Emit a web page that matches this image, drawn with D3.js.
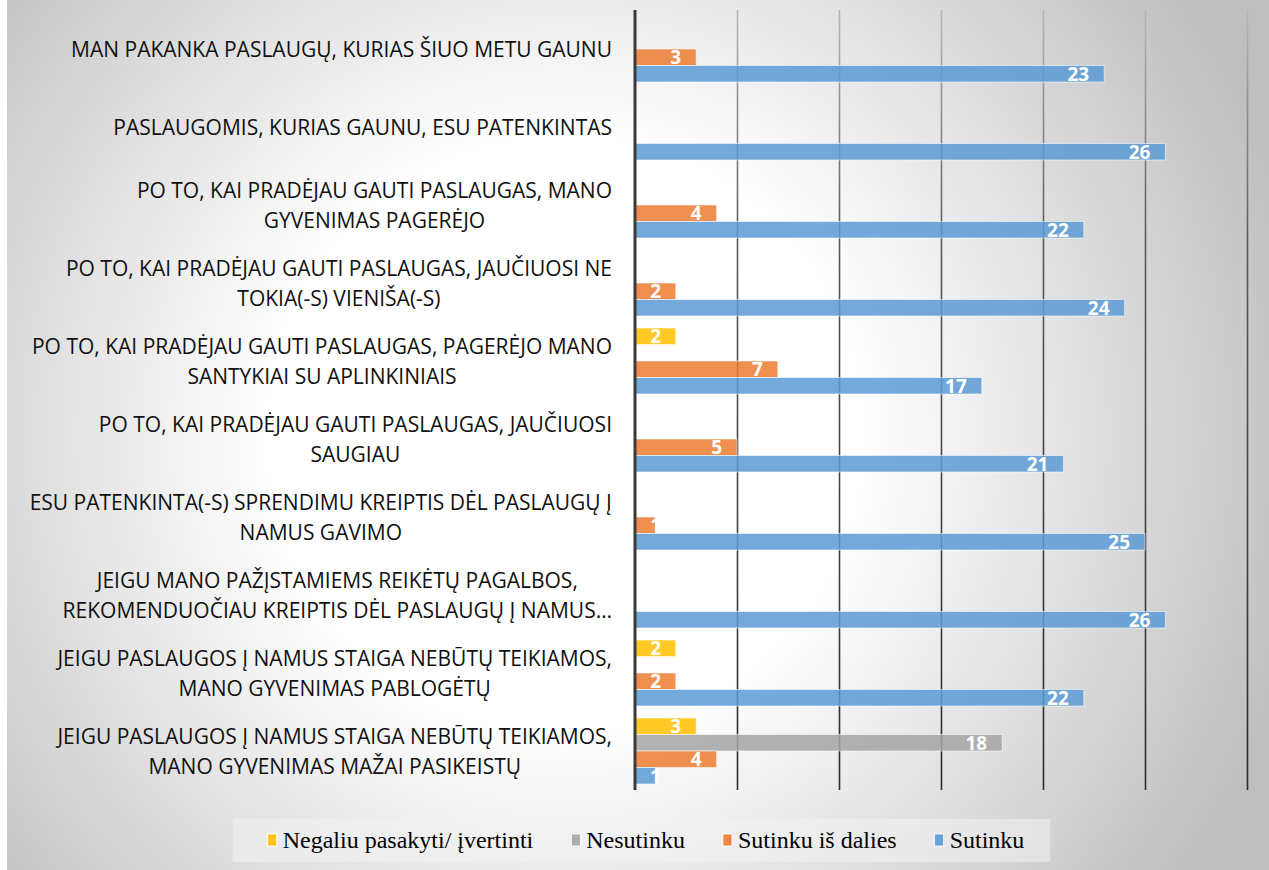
<!DOCTYPE html>
<html>
<head>
<meta charset="utf-8">
<script src="https://cdn.jsdelivr.net/npm/d3@7"></script>
<style>
  html, body { margin: 0; padding: 0; background: #fff; }
  svg { display: block; }
</style>
</head>
<body>
<script>

// Categories, top to bottom (each entry is one wrapped label).
var categories = [
  ["MAN PAKANKA PASLAUGŲ, KURIAS ŠIUO METU GAUNU"],
  ["PASLAUGOMIS, KURIAS GAUNU, ESU PATENKINTAS"],
  ["PO TO, KAI PRADĖJAU GAUTI PASLAUGAS, MANO", "GYVENIMAS PAGERĖJO"],
  ["PO TO, KAI PRADĖJAU GAUTI PASLAUGAS, JAUČIUOSI NE", "TOKIA(-S) VIENIŠA(-S)"],
  ["PO TO, KAI PRADĖJAU GAUTI PASLAUGAS, PAGERĖJO MANO", "SANTYKIAI SU APLINKINIAIS"],
  ["PO TO, KAI PRADĖJAU GAUTI PASLAUGAS, JAUČIUOSI", "SAUGIAU"],
  ["ESU PATENKINTA(-S) SPRENDIMU KREIPTIS DĖL PASLAUGŲ Į", "NAMUS GAVIMO"],
  ["JEIGU MANO PAŽĮSTAMIEMS REIKĖTŲ PAGALBOS,", "REKOMENDUOČIAU KREIPTIS DĖL PASLAUGŲ Į NAMUS…"],
  ["JEIGU PASLAUGOS Į NAMUS STAIGA NEBŪTŲ TEIKIAMOS,", "MANO GYVENIMAS PABLOGĖTŲ"],
  ["JEIGU PASLAUGOS Į NAMUS STAIGA NEBŪTŲ TEIKIAMOS,", "MANO GYVENIMAS MAŽAI PASIKEISTŲ"]
];

// Series names, in the order the bars stack from top to bottom in each group.
var seriesNames = ["Negaliu pasakyti/ įvertinti", "Nesutinku", "Sutinku iš dalies", "Sutinku"];

// Values per series, one per category.
var negaliu   = [0, 0, 0, 0, 2, 0, 0, 0, 2, 3];
var nesutinku = [0, 0, 0, 0, 0, 0, 0, 0, 0, 18];
var isDalies  = [3, 0, 4, 2, 7, 5, 1, 0, 2, 4];
var sutinku   = [23, 26, 22, 24, 17, 21, 25, 26, 22, 1];

var seriesColors = ["#FFC000", "#A5A5A5", "#ED7D31", "#5B9BD5"];
var xTicks = [0, 5, 10, 15, 20, 25, 30];

(function() {

//------------------------------------------------------------------------------
//
// Setup
//
//------------------------------------------------------------------------------

var W = 1269, H = 870;
var plot = {left: 635, right: 1247, top: 10, bottom: 790};
var seriesValues = [negaliu, nesutinku, isDalies, sutinku];

var svg = d3.select("body").append("svg")
  .attr("width", W)
  .attr("height", H)
;

var defs = svg.append("defs");

var bg = defs.append("radialGradient")
  .attr("id", "bg")
  .attr("gradientUnits", "userSpaceOnUse")
  .attr("cx", 565).attr("cy", 435).attr("r", 760)
;
bg.append("stop").attr("offset", 0).attr("stop-color", "#ffffff");
bg.append("stop").attr("offset", 0.39).attr("stop-color", "#ffffff");
bg.append("stop").attr("offset", 1).attr("stop-color", "#bfbfbf");

var gridGrad = defs.append("linearGradient")
  .attr("id", "grid")
  .attr("gradientUnits", "userSpaceOnUse")
  .attr("x1", 0).attr("y1", plot.top).attr("x2", 0).attr("y2", plot.bottom)
;
gridGrad.append("stop").attr("offset", 0).attr("stop-color", "#b4b4b4");
gridGrad.append("stop").attr("offset", 0.28).attr("stop-color", "#5a5a5a");
gridGrad.append("stop").attr("offset", 1).attr("stop-color", "#2a2a2a");

svg.append("rect")
  .attr("x", 7).attr("y", 0)
  .attr("width", W - 7).attr("height", H)
  .attr("fill", "url(#bg)")
;

//------------------------------------------------------------------------------
//
// Scales
//
//------------------------------------------------------------------------------

var x = d3.scaleLinear()
  .domain([0, 30])
  .range([plot.left, plot.right]);

var y0 = d3.scaleBand()
  .domain(d3.range(categories.length))
  .range([plot.top, plot.bottom])
  .paddingInner(0.154)
  .paddingOuter(0.077);

var y1 = d3.scaleBand()
  .domain(d3.range(seriesNames.length))
  .range([0, y0.bandwidth()]);

//------------------------------------------------------------------------------
//
// Grid & axis
//
//------------------------------------------------------------------------------

svg.append("g")
  .attr("transform", "translate(0," + plot.top + ")")
  .call(d3.axisTop(x).tickValues(xTicks.slice(1)).tickSize(-(plot.bottom - plot.top)).tickFormat(""))
  .call(function(g) {
    g.select(".domain").remove();
    g.selectAll(".tick line")
      .attr("stroke", "url(#grid)")
      .attr("stroke-width", 1.6);
  })
;

//------------------------------------------------------------------------------
//
// Bars
//
//------------------------------------------------------------------------------

var groups = svg.append("g").selectAll("g")
  .data(categories)
  .join("g")
  .attr("transform", function(d, i) { return "translate(0," + y0(i) + ")"; })
;

var bars = groups.selectAll("g.bar")
  .data(function(d, ci) {
    return seriesValues.map(function(vals, si) { return {s: si, c: ci, v: vals[ci]}; })
      .filter(function(b) { return b.v > 0; });
  })
  .join("g")
  .attr("class", "bar")
;

bars.append("rect")
  .attr("x", x(0))
  .attr("y", function(d) { return y1(d.s); })
  .attr("width", function(d) { return x(d.v) - x(0); })
  .attr("height", y1.bandwidth())
  .attr("fill", function(d) { return seriesColors[d.s]; })
  .attr("fill-opacity", 0.85)
  .attr("stroke", "#ffffff")
  .attr("stroke-opacity", 0.55)
  .attr("stroke-width", 1)
;

bars.append("text")
  .attr("x", function(d) { return Math.max(x(d.v) - 15, x(0) + 26); })
  .attr("y", function(d) { return y1(d.s) + y1.bandwidth() / 2; })
  .attr("dy", "0.36em")
  .attr("text-anchor", "end")
  .attr("fill", "#ffffff")
  .style("font", "bold 19px 'Open Sans', sans-serif")
  .text(function(d) { return d.v; })
;

// axis line drawn over the bars
svg.append("line")
  .attr("x1", x(0)).attr("x2", x(0))
  .attr("y1", plot.top).attr("y2", plot.bottom)
  .attr("stroke", "#3a3a3a")
  .attr("stroke-width", 3)
;

//------------------------------------------------------------------------------
//
// Category labels
//
//------------------------------------------------------------------------------

var labelRight = x(0) - 23;
var lineGap = 30;

groups.each(function(lines, i) {
  var g = d3.select(this);
  var cy = y0.bandwidth() / 2;
  var texts = g.selectAll("text.cat")
    .data(lines)
    .join("text")
    .attr("class", "cat")
    .attr("y", function(d, j) { return cy + (j - (lines.length - 1) / 2) * lineGap; })
    .attr("dy", "0.36em")
    .attr("text-anchor", "middle")
    .attr("fill", "#111")
    .style("font", "21px 'Open Sans', sans-serif")
    .text(function(d) { return d; });
  var maxW = d3.max(texts.nodes(), function(n) { return n.getComputedTextLength(); });
  texts.attr("x", labelRight - maxW / 2);
});

//------------------------------------------------------------------------------
//
// Legend
//
//------------------------------------------------------------------------------

var legend = svg.append("g");
var legendBox = legend.append("rect")
  .attr("y", 819)
  .attr("height", 43)
  .attr("fill", "#f2f2f2")
  .attr("fill-opacity", 0.55)
;

var items = legend.selectAll("g.item")
  .data(seriesNames)
  .join("g")
  .attr("class", "item")
;
items.append("rect")
  .attr("y", 834)
  .attr("width", 9)
  .attr("height", 12)
  .attr("fill", function(d, i) { return seriesColors[i]; })
  .attr("fill-opacity", 0.9)
  .attr("stroke", "#fff")
  .attr("stroke-width", 0.8)
;
items.append("text")
  .attr("x", 15)
  .attr("y", 848)
  .attr("fill", "#000")
  .style("font", "24px 'Liberation Serif', 'Times New Roman', serif")
  .text(function(d) { return d; })
;

var cursor = 0, gap = 38, widths = [];
items.each(function() { widths.push(15 + d3.select(this).select("text").node().getComputedTextLength()); });
var total = d3.sum(widths) + gap * (widths.length - 1);
var start = 646 - total / 2;
items.attr("transform", function(d, i) {
  var tx = start + cursor;
  cursor += widths[i] + gap;
  return "translate(" + tx + ",0)";
});
items.select("rect").attr("x", 0);
legendBox
  .attr("x", start - 35)
  .attr("width", total + 35 + 26)
;

})()
</script>
</body>
</html>
